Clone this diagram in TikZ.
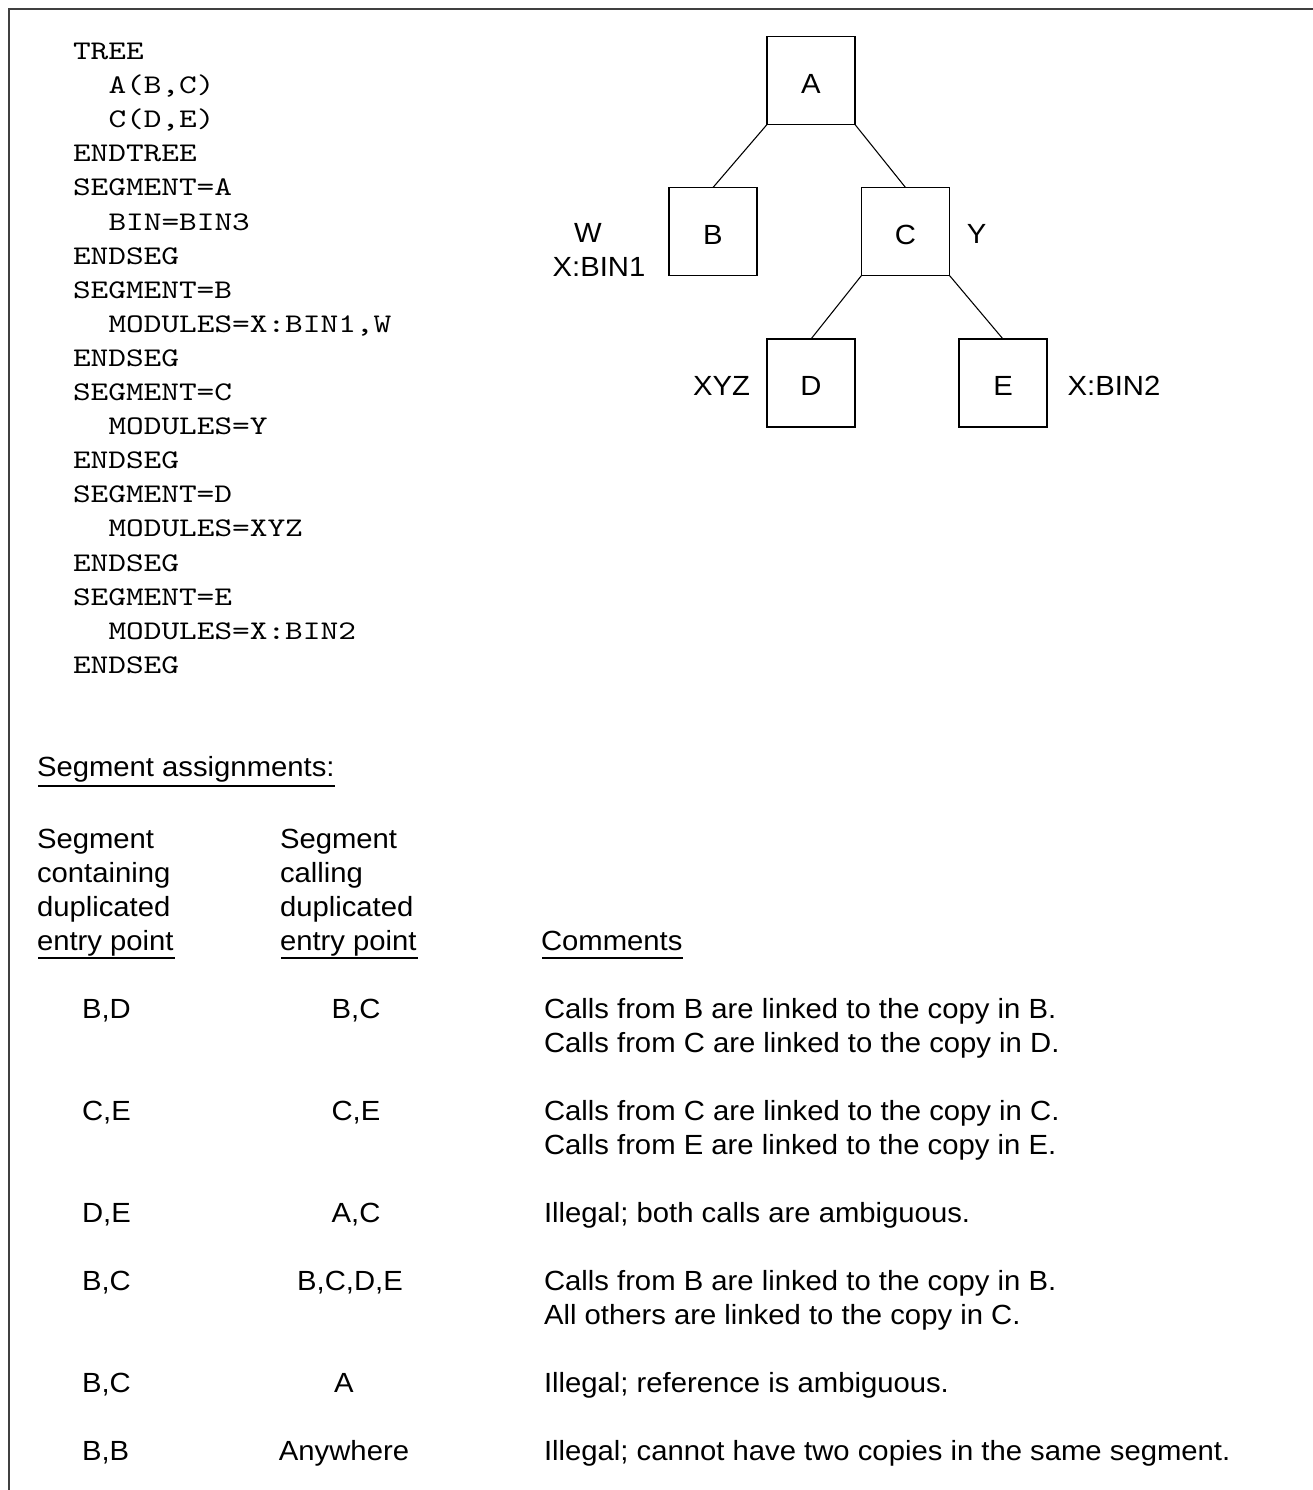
\documentclass[tikz,border=0pt]{standalone}
\usepackage{fontspec}
\setmainfont{Liberation Sans}[FakeStretch=1.055]
\newfontfamily\codefont{lmmono10-regular.otf}[FakeStretch=1.25]
\begin{document}
\begin{tikzpicture}[x=0.75pt,y=-0.75pt,
  every node/.style={inner sep=0pt,outer sep=0pt,font=\fontsize{20.8pt}{25pt}\selectfont},
  txt/.style={anchor=base west},
  ctr/.style={anchor=base},
  code/.style={anchor=base west,font=\codefont\fontsize{20.2pt}{25pt}\selectfont},
  box/.style={draw,line width=0.8pt,minimum width=66pt,minimum height=66pt,text height=18.75pt,text depth=0pt},
  link/.style={line width=0.8pt},
  uline/.style={line width=1.5pt},
  frameline/.style={line width=1.3pt,black!75}]
\useasboundingbox (0,0) rectangle (1313,1490);
\draw[frameline] (9,1490) -- (9,9) -- (1313,9);

% code listing
\def\cy#1{59.5+34.1*#1}
\node[code] (l0)  at (73,{\cy{0}})  {TREE};
\node[code] (l1)  at (108.5,{\cy{1}}) {A(B,C)};
\node[code] (l2)  at (108.5,{\cy{2}}) {C(D,E)};
\node[code] (l3)  at (73,{\cy{3}})  {ENDTREE};
\node[code] (l4)  at (73,{\cy{4}})  {SEGMENT=A};
\node[code] (l5)  at (108.5,{\cy{5}}) {BIN=BIN3};
\node[code] (l6)  at (73,{\cy{6}})  {ENDSEG};
\node[code] (l7)  at (73,{\cy{7}})  {SEGMENT=B};
\node[code] (l8)  at (108.5,{\cy{8}}) {MODULES=X:BIN1,W};
\node[code] (l9)  at (73,{\cy{9}})  {ENDSEG};
\node[code] (l10) at (73,{\cy{10}}) {SEGMENT=C};
\node[code] (l11) at (108.5,{\cy{11}}) {MODULES=Y};
\node[code] (l12) at (73,{\cy{12}}) {ENDSEG};
\node[code] (l13) at (73,{\cy{13}}) {SEGMENT=D};
\node[code] (l14) at (108.5,{\cy{14}}) {MODULES=XYZ};
\node[code] (l15) at (73,{\cy{15}}) {ENDSEG};
\node[code] (l16) at (73,{\cy{16}}) {SEGMENT=E};
\node[code] (l17) at (108.5,{\cy{17}}) {MODULES=X:BIN2};
\node[code] (l18) at (73,{\cy{18}}) {ENDSEG};

% tree
\node[box] (A) at (811,80.5) {A};
\node[box] (B) at (713,231.5) {B};
\node[box] (C) at (905.5,231.5) {C};
\node[box] (D) at (811,383) {D};
\node[box] (E) at (1003,383) {E};
\draw[link] (A.south west) -- (B.north);
\draw[link] (A.south east) -- (C.north);
\draw[link] (C.south west) -- (D.north);
\draw[link] (C.south east) -- (E.north);
\node[ctr] (w)    at (588,242) {W};
\node[ctr] (xb1)  at (599,276) {X:BIN1};
\node[ctr] (y)    at (976.5,243) {Y};
\node[ctr] (xyz)  at (721.5,395) {XYZ};
\node[ctr] (xb2)  at (1114,395) {X:BIN2};

% segment assignments
\node[txt] (sa) at (37,776) {Segment assignments:};
\draw[uline] (38,786) -- (335,786);
\node[txt] (h1a) at (37,848) {Segment};
\node[txt] (h1b) at (37,882) {containing};
\node[txt] (h1c) at (37,916) {duplicated};
\node[txt] (h1d) at (37,950) {entry point};
\node[txt] (h2a) at (280,848) {Segment};
\node[txt] (h2b) at (280,882) {calling};
\node[txt] (h2c) at (280,916) {duplicated};
\node[txt] (h2d) at (280,950) {entry point};
\node[txt] (h3)  at (541,950) {Comments};
\draw[uline] (38,958) -- (175,958);
\draw[uline] (281,958) -- (418,958);
\draw[uline] (542,958) -- (683,958);

% rows
\node[txt] (r1a) at (82,1018) {B,D};
\node[ctr] (r1b) at (356,1018) {B,C};
\node[txt] (r1c) at (544,1018) {Calls from B are linked to the copy in B.};
\node[txt] (r1d) at (544,1052) {Calls from C are linked to the copy in D.};

\node[txt] (r2a) at (82,1120) {C,E};
\node[ctr] (r2b) at (356,1120) {C,E};
\node[txt] (r2c) at (544,1120) {Calls from C are linked to the copy in C.};
\node[txt] (r2d) at (544,1154) {Calls from E are linked to the copy in E.};

\node[txt] (r3a) at (82,1222) {D,E};
\node[ctr] (r3b) at (356,1222) {A,C};
\node[txt] (r3c) at (544,1222) {Illegal; both calls are ambiguous.};

\node[txt] (r4a) at (82,1290) {B,C};
\node[ctr] (r4b) at (350,1290) {B,C,D,E};
\node[txt] (r4c) at (544,1290) {Calls from B are linked to the copy in B.};
\node[txt] (r4d) at (544,1324) {All others are linked to the copy in C.};

\node[txt] (r5a) at (82,1392) {B,C};
\node[ctr] (r5b) at (344,1392) {A};
\node[txt] (r5c) at (544,1392) {Illegal; reference is ambiguous.};

\node[txt] (r6a) at (82,1460) {B,B};
\node[ctr] (r6b) at (344,1460) {Anywhere};
\node[txt] (r6c) at (544,1460) {Illegal; cannot have two copies in the same segment.};
\end{tikzpicture}
\end{document}
